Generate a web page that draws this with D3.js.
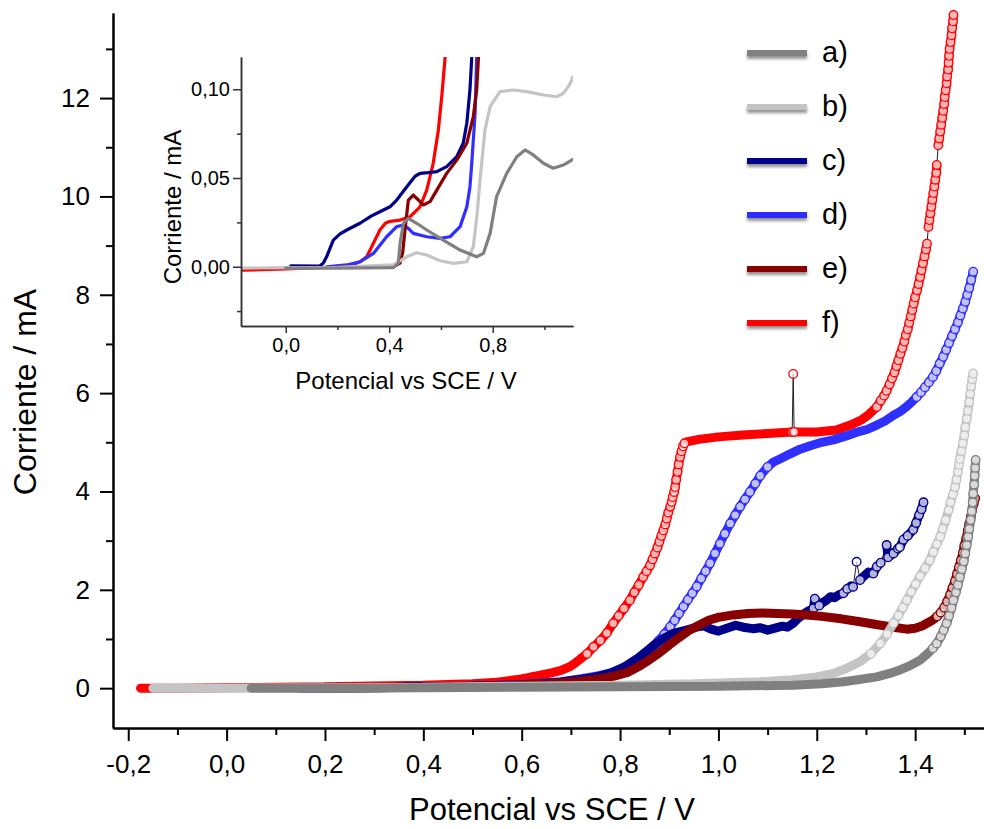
<!DOCTYPE html>
<html>
<head>
<meta charset="utf-8">
<script src="https://cdn.jsdelivr.net/npm/d3@7"></script>
<style>
  body { margin: 0; background: #fff; }
  svg { display: block; }
  text { font-family: "Liberation Sans", Arial, sans-serif; fill: #000; }
</style>
</head>
<body>
<svg id="chart" width="984" height="829"></svg>
<script>
// ---- Data: potential (V vs SCE), current (mA) ----
const seriesKeys = ["a)", "b)", "c)", "d)", "e)", "f)"];

const xTickValues = [-0.2, 0.0, 0.2, 0.4, 0.6, 0.8, 1.0, 1.2, 1.4];
const xMinorTicks = [-0.1, 0.1, 0.3, 0.5, 0.7, 0.9, 1.1, 1.3, 1.5];
const yTickValues = [0, 2, 4, 6, 8, 10, 12];
const yMinorTicks = [1, 3, 5, 7, 9, 11, 13];

const insetXTicks = [0.0, 0.4, 0.8];
const insetXMinor = [0.2, 0.6, 1.0];
const insetYTicks = [0.00, 0.05, 0.10];
const insetYMinor = [-0.025, 0.025, 0.075];

// full sweep, main panel
const curveA = [[0.05,0.00],[0.2,0.00],[0.4,0.01],[0.6,0.02],[0.8,0.03],[1.0,0.04],[1.152,0.06],[1.21,0.09],
  [1.254,0.13],[1.29,0.18],[1.322,0.23],[1.348,0.30],[1.369,0.37],[1.39,0.46],[1.41,0.57],[1.425,0.70],
  [1.436,0.81],[1.444,0.91],[1.452,1.05],[1.458,1.18],[1.464,1.32],[1.469,1.47],[1.474,1.63],[1.478,1.79],
  [1.483,1.95],[1.487,2.10],[1.491,2.26],[1.495,2.42],[1.499,2.58],[1.502,2.74],[1.505,2.91],[1.508,3.08],
  [1.510,3.24],[1.513,3.42],[1.515,3.60],[1.517,3.78],[1.518,3.96],[1.520,4.14],[1.521,4.32],[1.522,4.48],[1.523,4.64]];

const curveB = [[-0.15,0.00],[0.0,0.00],[0.2,0.01],[0.4,0.02],[0.6,0.04],[0.8,0.06],[0.95,0.09],[1.085,0.13],
  [1.152,0.17],[1.20,0.23],[1.234,0.30],[1.26,0.40],[1.288,0.54],[1.31,0.70],[1.329,0.91],[1.343,1.10],
  [1.356,1.32],[1.366,1.48],[1.375,1.64],[1.383,1.79],[1.392,1.96],[1.401,2.12],[1.410,2.28],[1.420,2.44],
  [1.430,2.60],[1.437,2.77],[1.444,2.93],[1.451,3.08],[1.456,3.24],[1.462,3.42],[1.468,3.62],[1.472,3.78],
  [1.477,3.94],[1.481,4.09],[1.484,4.24],[1.487,4.40],[1.489,4.54],[1.491,4.66],[1.494,4.82],[1.497,4.98],
  [1.500,5.14],[1.502,5.31],[1.505,5.48],[1.507,5.64],[1.510,5.82],[1.512,5.99],[1.514,6.14],[1.516,6.28],[1.518,6.40]];

const curveC = [[0.15,0.00],[0.35,0.02],[0.5,0.04],[0.6,0.07],[0.68,0.12],[0.74,0.20],[0.78,0.30],[0.81,0.44],
  [0.835,0.60],[0.855,0.76],[0.872,0.90],[0.89,1.02],[0.91,1.12],[0.935,1.18],[0.955,1.24],[0.97,1.27],
  [0.985,1.20],[1.0,1.16],[1.017,1.22],[1.035,1.28],[1.05,1.24],[1.07,1.21],[1.085,1.23],[1.10,1.18],
  [1.115,1.22],[1.13,1.26],[1.14,1.24],[1.152,1.32],[1.16,1.40],[1.166,1.45],[1.175,1.52],[1.185,1.58],
  [1.193,1.62],[1.196,1.82],[1.205,1.68],[1.212,1.74],[1.22,1.79],[1.228,1.86],[1.236,1.84],[1.245,1.90],
  [1.254,1.93],[1.262,2.02],[1.270,2.08],[1.274,2.06],[1.281,2.57],[1.288,2.20],[1.296,2.28],[1.305,2.36],
  [1.315,2.33],[1.322,2.47],[1.330,2.55],[1.342,2.91],[1.345,2.66],[1.356,2.74],[1.365,2.84],[1.369,2.87],
  [1.376,3.02],[1.385,3.10],[1.396,3.22],[1.402,3.36],[1.408,3.52],[1.413,3.64],[1.417,3.78]];

const curveD = [[0.15,0.00],[0.30,0.01],[0.45,0.03],[0.55,0.06],[0.62,0.09],[0.68,0.13],[0.725,0.20],[0.76,0.26],
  [0.78,0.31],[0.80,0.38],[0.815,0.45],[0.827,0.52],[0.84,0.62],[0.853,0.72],[0.868,0.85],[0.878,0.96],
  [0.890,1.10],[0.902,1.25],[0.911,1.38],[0.920,1.52],[0.929,1.66],[0.938,1.80],[0.947,1.93],[0.956,2.07],
  [0.965,2.23],[0.974,2.38],[0.983,2.54],[0.993,2.74],[1.003,2.94],[1.013,3.14],[1.024,3.35],[1.034,3.52],
  [1.044,3.69],[1.054,3.84],[1.064,3.99],[1.075,4.16],[1.085,4.32],[1.100,4.50],[1.112,4.60],[1.125,4.66],
  [1.145,4.76],[1.166,4.86],[1.19,4.94],[1.21,5.00],[1.234,5.05],[1.26,5.13],[1.28,5.20],[1.302,5.26],
  [1.32,5.34],[1.34,5.44],[1.356,5.55],[1.37,5.63],[1.382,5.72],[1.393,5.82],[1.403,5.92],[1.412,6.02],
  [1.420,6.12],[1.428,6.22],[1.436,6.33],[1.443,6.45],[1.450,6.60],[1.457,6.74],[1.463,6.88],[1.469,7.02],
  [1.475,7.16],[1.481,7.30],[1.487,7.44],[1.492,7.58],[1.497,7.72],[1.502,7.86],[1.506,8.00],[1.510,8.14],
  [1.514,8.30],[1.518,8.47]];

const curveE = [[0.20,0.00],[0.40,0.02],[0.55,0.05],[0.65,0.09],[0.72,0.14],[0.76,0.19],[0.79,0.25],[0.815,0.32],
  [0.84,0.45],[0.86,0.58],[0.88,0.72],[0.90,0.88],[0.92,1.03],[0.94,1.17],[0.96,1.28],[0.98,1.38],[1.00,1.44],
  [1.03,1.49],[1.06,1.52],[1.09,1.53],[1.12,1.52],[1.15,1.51],[1.18,1.49],[1.21,1.46],[1.25,1.41],[1.288,1.35],
  [1.33,1.28],[1.363,1.23],[1.383,1.20],[1.40,1.22],[1.415,1.27],[1.424,1.32],[1.435,1.38],[1.445,1.46],
  [1.452,1.54],[1.459,1.64],[1.465,1.76],[1.471,1.90],[1.476,2.04],[1.481,2.18],[1.485,2.32],[1.489,2.46],
  [1.493,2.60],[1.497,2.75],[1.500,2.90],[1.504,3.05],[1.507,3.20],[1.510,3.34],[1.513,3.48],[1.516,3.62],
  [1.519,3.75],[1.522,3.86]];

const curveF = [[-0.175,0.00],[-0.1,0.00],[0.0,0.01],[0.2,0.03],[0.4,0.06],[0.5,0.09],[0.55,0.12],[0.58,0.16],
  [0.60,0.19],[0.62,0.23],[0.64,0.27],[0.66,0.31],[0.68,0.36],[0.70,0.45],[0.71,0.52],[0.72,0.60],[0.733,0.70],
  [0.746,0.84],[0.76,0.97],[0.773,1.12],[0.786,1.32],[0.797,1.47],[0.808,1.62],[0.820,1.79],[0.829,1.95],
  [0.838,2.10],[0.847,2.26],[0.854,2.38],[0.861,2.50],[0.866,2.62],[0.871,2.74],[0.876,2.86],[0.880,2.98],
  [0.884,3.10],[0.888,3.21],[0.892,3.33],[0.895,3.45],[0.898,3.57],[0.902,3.69],[0.905,3.79],[0.907,3.89],
  [0.910,3.99],[0.912,4.09],[0.914,4.24],[0.917,4.40],[0.919,4.55],[0.922,4.70],[0.925,4.82],[0.928,4.92],
  [0.931,4.98],[0.935,5.01],[0.96,5.06],[1.00,5.11],[1.05,5.15],[1.10,5.18],[1.15,5.21],[1.152,6.39],
  [1.154,5.21],[1.20,5.21],[1.24,5.25],[1.268,5.35],[1.29,5.45],[1.305,5.56],[1.322,5.72],[1.330,5.85],
  [1.337,5.95],[1.342,6.05],[1.348,6.18],[1.353,6.30],[1.358,6.42],[1.362,6.55],[1.366,6.67],[1.370,6.80],
  [1.374,6.92],[1.378,7.05],[1.381,7.18],[1.385,7.30],[1.388,7.43],[1.391,7.56],[1.394,7.69],[1.397,7.82],
  [1.400,7.95],[1.404,8.09],[1.407,8.22],[1.410,8.36],[1.413,8.50],[1.416,8.64],[1.419,8.78],[1.422,8.92],
  [1.424,9.04],[1.427,9.38],[1.429,9.52],[1.431,9.66],[1.433,9.79],[1.435,9.93],[1.437,10.07],[1.439,10.20],
  [1.441,10.34],[1.443,10.48],[1.444,10.64],[1.447,11.04],[1.449,11.18],[1.451,11.32],[1.453,11.46],
  [1.455,11.60],[1.457,11.74],[1.459,11.88],[1.460,12.02],[1.462,12.16],[1.464,12.30],[1.465,12.44],
  [1.467,12.58],[1.468,12.72],[1.469,12.86],[1.470,13.00],[1.472,13.14],[1.474,13.28],[1.475,13.42],
  [1.477,13.56],[1.478,13.69]];

// onset region, inset panel
const insetA = [[0.0,-0.0008],[0.2,-0.0008],[0.416,-0.0005],[0.435,0.0019],[0.442,0.0132],[0.455,0.0245],
  [0.474,0.0273],[0.506,0.0245],[0.545,0.0207],[0.609,0.015],[0.674,0.0094],[0.738,0.0056],[0.764,0.0075],
  [0.79,0.0188],[0.815,0.0395],[0.854,0.0526],[0.893,0.062],[0.925,0.0658],[0.957,0.063],[0.996,0.0583],
  [1.034,0.0555],[1.073,0.0573],[1.105,0.0601],[1.11,0.0605]];
const insetB = [[-0.17,-0.0008],[0.0,-0.0005],[0.2,-0.0003],[0.416,0.001],[0.468,0.0056],[0.506,0.0079],
  [0.545,0.0066],[0.596,0.0034],[0.648,0.0019],[0.70,0.0028],[0.725,0.0113],[0.74,0.03],[0.751,0.0489],
  [0.77,0.077],[0.79,0.0902],[0.828,0.0987],[0.88,0.0996],[0.931,0.0987],[0.996,0.0968],[1.047,0.0958],
  [1.073,0.0977],[1.092,0.1015],[1.105,0.105],[1.11,0.107]];
const insetC = [[0.02,0.0005],[0.13,0.0003],[0.145,0.002],[0.158,0.0056],[0.184,0.015],[0.21,0.0185],
  [0.236,0.0207],[0.287,0.0245],[0.33,0.0285],[0.364,0.031],[0.403,0.0338],[0.429,0.0376],[0.468,0.0451],
  [0.50,0.051],[0.519,0.0526],[0.55,0.053],[0.584,0.0536],[0.622,0.0564],[0.661,0.062],[0.686,0.0696],
  [0.70,0.081],[0.712,0.0996],[0.719,0.118],[0.722,0.125]];
const insetD = [[0.158,0.0],[0.236,0.001],[0.287,0.0028],[0.339,0.0075],[0.39,0.0169],[0.429,0.0226],
  [0.455,0.0235],[0.475,0.0215],[0.493,0.0188],[0.545,0.0169],[0.596,0.016],[0.635,0.0169],[0.674,0.0226],
  [0.70,0.0338],[0.712,0.045],[0.719,0.0583],[0.732,0.0865],[0.738,0.118],[0.74,0.125]];
const insetE = [[0.2,0.0],[0.287,0.0],[0.416,0.0],[0.442,0.002],[0.452,0.008],[0.461,0.0207],[0.474,0.0376],
  [0.493,0.0404],[0.513,0.0376],[0.532,0.0348],[0.558,0.0367],[0.584,0.0432],[0.622,0.0526],[0.661,0.0601],
  [0.70,0.0696],[0.725,0.0846],[0.738,0.0996],[0.745,0.118],[0.748,0.125]];
const insetF = [[-0.17,-0.0019],[-0.1,-0.0017],[0.0,-0.0012],[0.1,-0.0007],[0.2,-0.0002],[0.25,0.0005],
  [0.287,0.0028],[0.313,0.0056],[0.339,0.0132],[0.364,0.0207],[0.385,0.0245],[0.403,0.0256],[0.442,0.0263],
  [0.481,0.0282],[0.519,0.0338],[0.545,0.0432],[0.570,0.0583],[0.590,0.0771],[0.603,0.0958],[0.616,0.118],
  [0.62,0.125]];

// ---- Styling ----
const seriesColors = ["#808080", "#c4c4c4", "#000088", "#2f2fff", "#880000", "#ff0000"];
const mainCurves = [curveA, curveB, curveC, curveD, curveE, curveF];
const insetCurves = [insetA, insetB, insetC, insetD, insetE, insetF];
const drawOrder = [5, 3, 2, 4, 1, 0];   // back to front

const commaFmt = digits => d => d.toFixed(digits).replace(".", ",");

const svg = d3.select("#chart");
const defs = svg.append("defs");

// ---- Main panel ----
const x = d3.scaleLinear().domain([-0.231, 1.540]).range([113, 984]);
const y = d3.scaleLinear().domain([-0.81, 13.73]).range([728, 13]);

// Each trace: thin connecting line, dense marker band where points crowd
// together, open circle markers where the curve climbs steeply.
function drawTrace(layer, data, color) {
  const px = d => x(d[0]), py = d => y(d[1]);
  layer.append("path")
    .attr("d", d3.line().x(px).y(py)(data))
    .attr("fill", "none").attr("stroke", "#222").attr("stroke-width", 1);

  const band = d3.path();
  const steep = [];
  for (let i = 0; i < data.length - 1; i++) {
    const dx = px(data[i + 1]) - px(data[i]);
    const dy = py(data[i + 1]) - py(data[i]);
    const s = Math.abs(dy) > Math.abs(dx);
    steep.push(s);
    if (s && Math.hypot(dx, dy) > 14) continue;
    band.moveTo(px(data[i]), py(data[i]));
    band.lineTo(px(data[i + 1]), py(data[i + 1]));
  }
  layer.append("path")
    .attr("d", band.toString())
    .attr("fill", "none").attr("stroke", color)
    .attr("stroke-width", 9).attr("stroke-linecap", "round").attr("stroke-linejoin", "round");

  const marked = data.filter((d, i) => steep[i - 1] || steep[i]);
  layer.selectAll("circle").data(marked).join("circle")
    .attr("cx", px).attr("cy", py).attr("r", 4.3)
    .attr("fill", "#fff").attr("fill-opacity", 0.7)
    .attr("stroke", color).attr("stroke-width", 1.3);
}

const plot = svg.append("g");
drawOrder.forEach(i => drawTrace(plot.append("g"), mainCurves[i], seriesColors[i]));

// axes
const yAxis = svg.append("g").attr("transform", "translate(113,0)")
  .call(d3.axisLeft(y).tickValues(yTickValues).tickSize(13).tickSizeOuter(0).tickPadding(10).tickFormat(d3.format("d")));
svg.append("g").attr("transform", "translate(113,0)")
  .call(d3.axisLeft(y).tickValues(yMinorTicks).tickSize(7).tickSizeOuter(0).tickFormat(""));
const xAxis = svg.append("g").attr("transform", "translate(0,728)")
  .call(d3.axisBottom(x).tickValues(xTickValues).tickSize(13).tickSizeOuter(0).tickPadding(14).tickFormat(commaFmt(1)));
svg.append("g").attr("transform", "translate(0,728)")
  .call(d3.axisBottom(x).tickValues(xMinorTicks).tickSize(7).tickSizeOuter(0).tickFormat(""));

[yAxis, xAxis].forEach(a => a.selectAll("text").attr("font-size", 26).attr("font-family", "Liberation Sans, Arial, sans-serif"));
svg.selectAll(".domain, .tick line").attr("stroke", "#000").attr("stroke-width", 2);

svg.append("text").attr("transform", "translate(36,392) rotate(-90)")
  .attr("text-anchor", "middle").attr("font-size", 32).text("Corriente / mA");
svg.append("text").attr("x", 552).attr("y", 820)
  .attr("text-anchor", "middle").attr("font-size", 31).text("Potencial vs SCE / V");

// ---- Inset panel ----
const ix = d3.scaleLinear().domain([-0.1728, 1.1103]).range([241, 573]);
const iy = d3.scaleLinear().domain([-0.0334, 0.1182]).range([326, 57]);

defs.append("clipPath").attr("id", "inset-clip")
  .append("rect").attr("x", 241).attr("y", 57).attr("width", 332).attr("height", 269);

const inset = svg.append("g").attr("clip-path", "url(#inset-clip)");
const insetLine = d3.line().x(d => ix(d[0])).y(d => iy(d[1]));
drawOrder.forEach(i => {
  inset.append("path").attr("d", insetLine(insetCurves[i]))
    .attr("fill", "none").attr("stroke", seriesColors[i])
    .attr("stroke-width", 3.2).attr("stroke-linejoin", "round").attr("stroke-linecap", "round");
});

const insetAxes = svg.append("g").attr("class", "inset-axes");
const iyAxis = insetAxes.append("g").attr("transform", "translate(241,0)")
  .call(d3.axisLeft(iy).tickValues(insetYTicks).tickSize(8).tickSizeOuter(0).tickPadding(3).tickFormat(commaFmt(2)));
insetAxes.append("g").attr("transform", "translate(241,0)")
  .call(d3.axisLeft(iy).tickValues(insetYMinor).tickSize(4).tickSizeOuter(0).tickFormat(""));
const ixAxis = insetAxes.append("g").attr("transform", "translate(0,326)")
  .call(d3.axisBottom(ix).tickValues(insetXTicks).tickSize(7).tickSizeOuter(0).tickPadding(5).tickFormat(commaFmt(1)));
insetAxes.append("g").attr("transform", "translate(0,326)")
  .call(d3.axisBottom(ix).tickValues(insetXMinor).tickSize(4).tickSizeOuter(0).tickFormat(""));
[iyAxis, ixAxis].forEach(a => a.selectAll("text").attr("font-size", 20).attr("font-family", "Liberation Sans, Arial, sans-serif"));
insetAxes.selectAll(".domain, .tick line").attr("stroke", "#333").attr("stroke-width", 1.5);

svg.append("text").attr("transform", "translate(181,207) rotate(-90)")
  .attr("text-anchor", "middle").attr("font-size", 24).text("Corriente / mA");
svg.append("text").attr("x", 406).attr("y", 389)
  .attr("text-anchor", "middle").attr("font-size", 24).text("Potencial vs SCE / V");

// ---- Legend ----
const shadow = defs.append("filter").attr("id", "legend-shadow")
  .attr("filterUnits", "userSpaceOnUse")
  .attr("x", 730).attr("y", 30).attr("width", 100).attr("height", 320);
shadow.append("feDropShadow").attr("dx", 0).attr("dy", 3).attr("stdDeviation", 1.6)
  .attr("flood-color", "#666").attr("flood-opacity", 0.7);

const legend = svg.append("g");
const legendY = d3.scalePoint().domain(seriesKeys).range([53, 323]);
seriesKeys.forEach((k, i) => {
  const ly = legendY(k);
  legend.append("rect").attr("x", 747).attr("y", ly - 3).attr("width", 60).attr("height", 6)
    .attr("fill", seriesColors[i]).attr("filter", "url(#legend-shadow)");
  legend.append("text").attr("x", 822).attr("y", ly + 9).attr("font-size", 29).text(k);
});
</script>
</body>
</html>
